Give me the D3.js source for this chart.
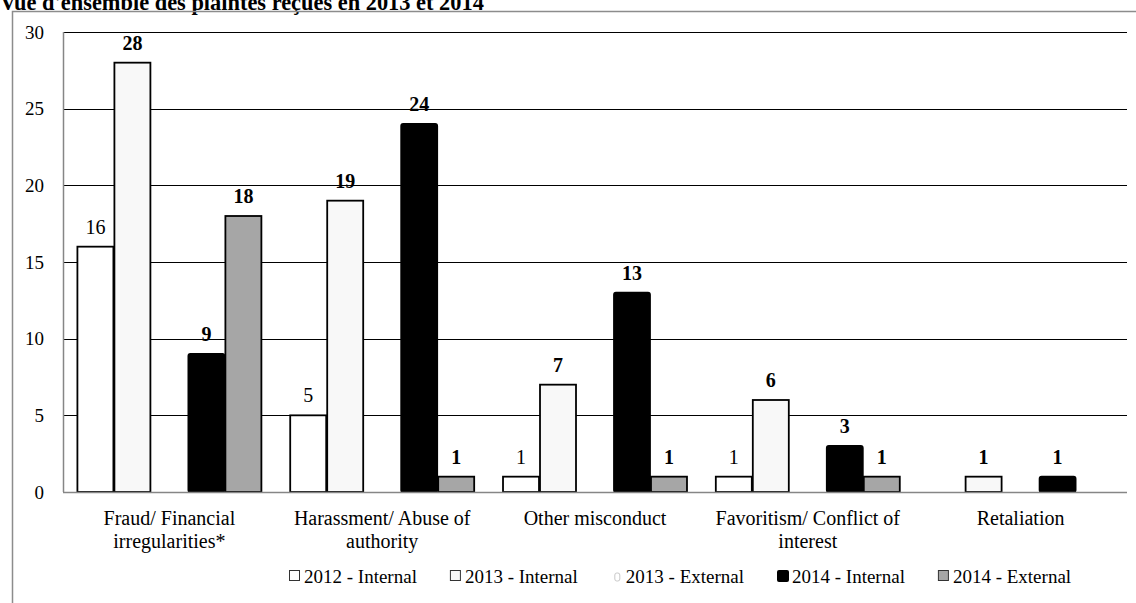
<!DOCTYPE html>
<html>
<head>
<meta charset="utf-8">
<script src="https://cdn.jsdelivr.net/npm/d3@7"></script>
<style>
  html, body { margin: 0; padding: 0; background: #fff; }
  svg { display: block; }
  svg text { font-family: 'Liberation Serif', 'DejaVu Serif', serif; }
</style>
</head>
<body>
<svg id="chart" width="1136" height="603"></svg>
<script>
// Complaints received, by category and year/source
const categories = [
  "Fraud/ Financial irregularities*",
  "Harassment/ Abuse of authority",
  "Other misconduct",
  "Favoritism/ Conflict of interest",
  "Retaliation"
];
const categoryLines = [
  ["Fraud/ Financial", "irregularities*"],
  ["Harassment/ Abuse of", "authority"],
  ["Other misconduct"],
  ["Favoritism/ Conflict of", "interest"],
  ["Retaliation"]
];
const seriesNames = ["2012 - Internal", "2013 - Internal", "2013 - External", "2014 - Internal", "2014 - External"];
const internal2012 = [16, 5, 1, 1, null];
const internal2013 = [28, 19, 7, 6, 1];
const external2013 = [null, null, null, null, null];
const internal2014 = [9, 24, 13, 3, 1];
const external2014 = [18, 1, 1, 1, null];
const yTicks = [0, 5, 10, 15, 20, 25, 30];

const seriesValues = [internal2012, internal2013, external2013, internal2014, external2014];
const fills = ["#ffffff", "#f8f8f8", "#fcfcfc", "#000000", "#a6a6a6"];
const boldLabels = [false, true, true, true, true];

const FONT = "'Liberation Serif', 'DejaVu Serif', serif";
const svg = d3.select("#chart");
const plot = { left: 63, right: 1127, top: 32, bottom: 492 };

// Title (bold, partly above the page edge)
svg.append("text")
  .attr("x", 0).attr("y", 10)
  .attr("font-family", FONT)
  .attr("font-size", 22.4).attr("font-weight", "bold")
  .text("Vue d'ensemble des plaintes reçues en 2013 et 2014");

// Outer frame
svg.append("path")
  .attr("d", `M12.5,${603 + 2} V11.5 H1140`)
  .attr("fill", "none").attr("stroke", "#8c8c8c").attr("stroke-width", 1.5);

const x0 = d3.scaleBand().domain(categories).range([plot.left, plot.right]).padding(0);
const x1 = d3.scaleBand().domain(seriesNames).range([0, x0.bandwidth()])
  .paddingInner(0).paddingOuter(0.376);
const y = d3.scaleLinear().domain([0, 30]).range([plot.bottom, plot.top]);

// Gridlines
svg.append("g").selectAll("line")
  .data(yTicks.filter(t => t > 0))
  .join("line")
  .attr("x1", plot.left).attr("x2", plot.right)
  .attr("y1", d => Math.round(y(d)) + 0.5).attr("y2", d => Math.round(y(d)) + 0.5)
  .attr("stroke", "#000").attr("stroke-width", 1.2);

// Y axis labels
const yAxis = d3.axisLeft(y).tickValues(yTicks).tickSize(0).tickPadding(0);
const gy = svg.append("g").attr("transform", `translate(44,0)`).call(yAxis);
gy.attr("font-family", FONT);
gy.select(".domain").remove();
gy.selectAll("text")
  .attr("font-family", FONT)
  .attr("font-size", 19).attr("fill", "#000").attr("dy", "0.32em");

// Bars
const bars = [];
seriesValues.forEach((vals, si) => {
  vals.forEach((v, ci) => {
    if (v != null) bars.push({ s: si, c: ci, v });
  });
});

svg.append("g").selectAll("rect")
  .data(bars)
  .join("rect")
  .attr("x", d => x0(categories[d.c]) + x1(seriesNames[d.s]) + 0.5)
  .attr("width", x1.bandwidth() - 1)
  .attr("y", d => y(d.v))
  .attr("height", d => y(0) - y(d.v))
  .attr("fill", d => fills[d.s])
  .attr("stroke", "#000")
  .attr("stroke-width", 1.8)
  .attr("rx", d => d.s === 3 ? 2 : 0);

// Axis lines
svg.append("line")
  .attr("x1", plot.left).attr("x2", plot.right)
  .attr("y1", plot.bottom + 0.5).attr("y2", plot.bottom + 0.5)
  .attr("stroke", "#868686").attr("stroke-width", 1.5);
svg.append("line")
  .attr("x1", plot.left + 0.5).attr("x2", plot.left + 0.5)
  .attr("y1", plot.top).attr("y2", plot.bottom)
  .attr("stroke", "#868686").attr("stroke-width", 1.5);

// Value labels
svg.append("g").selectAll("text")
  .data(bars)
  .join("text")
  .attr("x", d => x0(categories[d.c]) + x1(seriesNames[d.s]) + x1.bandwidth() / 2)
  .attr("y", d => y(d.v) - 13)
  .attr("text-anchor", "middle")
  .attr("font-family", FONT)
  .attr("font-size", 20)
  .attr("font-weight", d => boldLabels[d.s] ? "bold" : "normal")
  .text(d => d.v);

// Category labels
const gCat = svg.append("g");
categories.forEach((c, i) => {
  const cx = x0(c) + x0.bandwidth() / 2;
  const t = gCat.append("text")
    .attr("x", cx)
    .attr("y", 525)
    .attr("text-anchor", "middle")
    .attr("font-family", FONT)
    .attr("font-size", 20);
  categoryLines[i].forEach((line, li) => {
    t.append("tspan")
      .attr("x", cx)
      .attr("dy", li === 0 ? 0 : 23)
      .text(line);
  });
});

// Legend
const legend = svg.append("g").attr("transform", "translate(289,583)");
let lx = 0;
seriesNames.forEach((name, i) => {
  const item = legend.append("g").attr("transform", `translate(${lx},0)`);
  if (i === 2) {
    item.append("rect")
      .attr("x", 4).attr("y", -10).attr("width", 5).attr("height", 8)
      .attr("rx", 2)
      .attr("fill", "#fff").attr("stroke", "#c8c8c8").attr("stroke-width", 1);
  } else if (i === 3) {
    item.append("rect")
      .attr("x", 0).attr("y", -13).attr("width", 12).attr("height", 12)
      .attr("rx", 2).attr("fill", "#000");
  } else {
    item.append("rect")
      .attr("x", 0.5).attr("y", -12.5).attr("width", 10).attr("height", 10)
      .attr("fill", fills[i]).attr("stroke", "#333").attr("stroke-width", 1);
  }
  const txt = item.append("text")
    .attr("x", 15).attr("y", 0)
    .attr("font-family", FONT)
    .attr("font-size", 19)
    .text(name);
  lx += 15 + txt.node().getComputedTextLength() + 33;
});
</script>
</body>
</html>
